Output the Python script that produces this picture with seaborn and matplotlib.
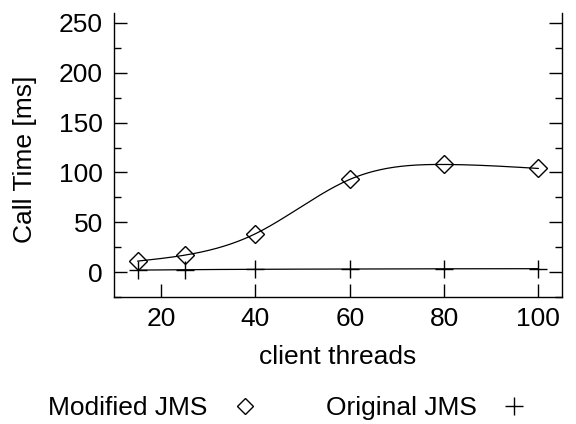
import numpy as np
import pandas as pd
import matplotlib
matplotlib.use("Agg")
import matplotlib.pyplot as plt
from matplotlib.lines import Line2D
import seaborn as sns

# measured call times per number of client threads
threads = [15, 25, 40, 60, 80, 100]
modified_jms = [11, 17, 38.5, 93, 108, 104]
original_jms = [2.0, 2.4, 2.8, 3.1, 3.3, 3.4]
y_ticks = [0, 50, 100, 150, 200, 250]
x_ticks = [20, 40, 60, 80, 100]


def natural_cubic_spline(x, y, xs):
    """Natural cubic spline through (x, y), evaluated at xs (like gnuplot csplines)."""
    x = np.asarray(x, float)
    y = np.asarray(y, float)
    n = len(x)
    h = np.diff(x)
    A = np.zeros((n, n))
    b = np.zeros(n)
    A[0, 0] = 1.0
    A[-1, -1] = 1.0
    for i in range(1, n - 1):
        A[i, i - 1] = h[i - 1]
        A[i, i] = 2 * (h[i - 1] + h[i])
        A[i, i + 1] = h[i]
        b[i] = 3 * ((y[i + 1] - y[i]) / h[i] - (y[i] - y[i - 1]) / h[i - 1])
    c = np.linalg.solve(A, b)
    out = np.empty_like(xs, dtype=float)
    idx = np.clip(np.searchsorted(x, xs, side="right") - 1, 0, n - 2)
    for k, (xv, i) in enumerate(zip(xs, idx)):
        dx = xv - x[i]
        bi = (y[i + 1] - y[i]) / h[i] - h[i] * (2 * c[i] + c[i + 1]) / 3
        di = (c[i + 1] - c[i]) / (3 * h[i])
        out[k] = y[i] + bi * dx + c[i] * dx ** 2 + di * dx ** 3
    return out


sns.set_theme(style="white")
plt.rcParams["font.family"] = ["Liberation Sans", "DejaVu Sans"]
plt.rcParams["axes.linewidth"] = 1.0
plt.rcParams["text.color"] = "black"
plt.rcParams["axes.labelcolor"] = "black"
plt.rcParams["xtick.color"] = "black"
plt.rcParams["ytick.color"] = "black"

FS = 19

fig = plt.figure(figsize=(5.76, 4.24), dpi=100)
ax = fig.add_axes([114 / 576, 1 - 297 / 424, (562 - 114) / 576, (297 - 13) / 424])

xs = np.linspace(threads[0], threads[-1], 300)
curves = pd.DataFrame({
    "threads": np.concatenate([xs, xs]),
    "time": np.concatenate([natural_cubic_spline(threads, modified_jms, xs),
                            natural_cubic_spline(threads, original_jms, xs)]),
    "series": ["Modified JMS"] * len(xs) + ["Original JMS"] * len(xs),
})
points = pd.DataFrame({
    "threads": threads + threads,
    "time": modified_jms + original_jms,
    "series": ["Modified JMS"] * len(threads) + ["Original JMS"] * len(threads),
})

sns.lineplot(data=curves, x="threads", y="time", units="series", estimator=None,
             color="black", linewidth=0.9, ax=ax, legend=False)
mod = points[points.series == "Modified JMS"]
orig = points[points.series == "Original JMS"]
ax.plot(mod.threads, mod.time, linestyle="none", marker="D", markersize=9,
        markerfacecolor="none", markeredgecolor="black", markeredgewidth=1.0)
ax.plot(orig.threads, orig.time, linestyle="none", marker="+", markersize=13,
        markeredgecolor="black", markeredgewidth=1.0)

ax.set_xlim(10, 105)
ax.set_ylim(-25, 260)
ax.set_xticks(x_ticks)
ax.set_yticks(y_ticks)
ax.set_yticks(np.arange(-25, 260, 25), minor=True)
ax.tick_params(axis="y", which="major", direction="in", length=9.5, width=1.0,
               left=True, right=True, labelsize=FS, pad=8)
ax.tick_params(axis="y", which="minor", direction="in", length=5, width=1.0,
               left=True, right=True)
ax.tick_params(axis="x", which="major", direction="in", length=9.5, width=1.0,
               bottom=True, top=False, labelsize=FS, pad=7)
ax.spines["top"].set_visible(False)
for s in ("left", "right", "bottom"):
    ax.spines[s].set_color("black")

ax.set_xlabel("client threads", fontsize=FS)
ax.set_ylabel("Call Time [ms]", fontsize=FS)
ax.xaxis.set_label_coords(0.5, -0.168)
ax.yaxis.set_label_coords(-0.172, 0.485)

handles = [
    Line2D([], [], linestyle="none", marker="D", markersize=8, markerfacecolor="none",
           markeredgecolor="black", markeredgewidth=1.0, label="Modified JMS"),
    Line2D([], [], linestyle="none", marker="+", markersize=13, markeredgecolor="black",
           markeredgewidth=1.0, label="Original JMS"),
]
fig.legend(handles=handles, loc="center", bbox_to_anchor=(0.502, 1 - 408 / 424), ncol=2,
           frameon=False, markerfirst=False, fontsize=FS, columnspacing=2.5,
           handlelength=1.2, handletextpad=0.8, labelcolor="black")

fig.savefig("out.png", dpi=100)
